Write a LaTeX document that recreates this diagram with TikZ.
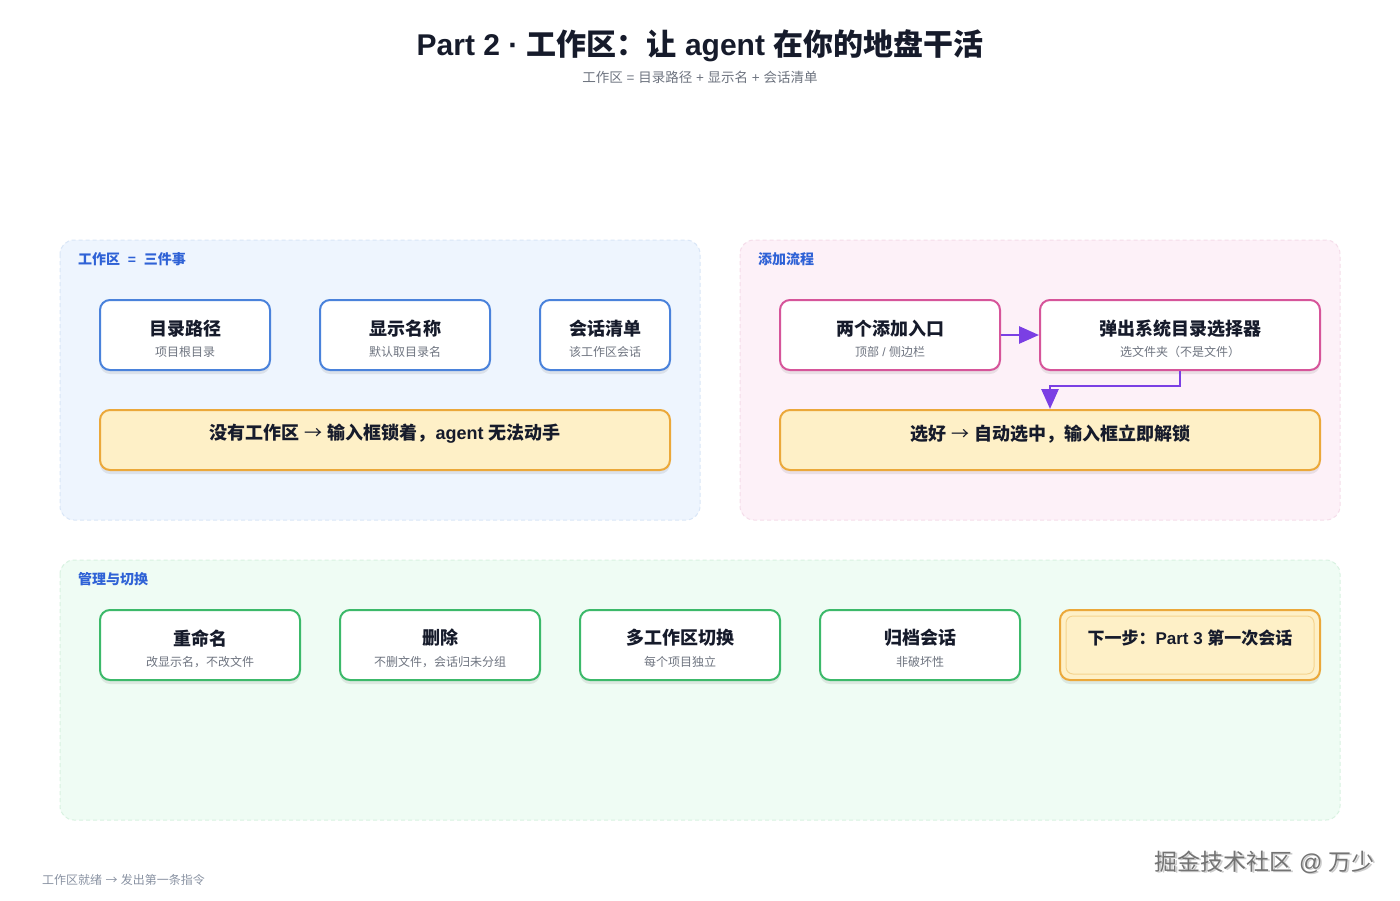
\documentclass[tikz,border=0pt]{standalone}
\usepackage{fontspec}
\setmainfont{Noto Sans CJK SC}
\newfontfamily\lat{Liberation Sans}
\newcommand{\thinarrow}{{\mdseries →}}
\usetikzlibrary{arrows.meta,shadows}
\definecolor{ink}{HTML}{161B2B}
\definecolor{subgray}{HTML}{6E7480}
\definecolor{lblblue}{HTML}{2F62D6}
\definecolor{bluepanel}{HTML}{EEF5FE}
\definecolor{bluepanelb}{HTML}{D9E6F7}
\definecolor{pinkpanel}{HTML}{FDF1F8}
\definecolor{pinkpanelb}{HTML}{F5DDEA}
\definecolor{greenpanel}{HTML}{EFFCF4}
\definecolor{greenpanelb}{HTML}{D8F2E1}
\definecolor{blueb}{HTML}{4A82DB}
\definecolor{pinkb}{HTML}{D6559A}
\definecolor{greenb}{HTML}{3CB96A}
\definecolor{amberb}{HTML}{EBA83A}
\definecolor{amberin}{HTML}{F5D48E}
\definecolor{amberf}{HTML}{FEF0C7}
\definecolor{flowc}{HTML}{7B3FE4}
\definecolor{foot}{HTML}{8A93A3}
\tikzset{
  panel/.style={draw=#1, line width=1pt, dash pattern=on 4pt off 3pt, rounded corners=14pt},
  card/.style={draw=#1, fill=white, line width=2pt, rounded corners=10pt,
    drop shadow={shadow xshift=0pt, shadow yshift=-4pt, opacity=0.08, fill=black}},
  notecard/.style={draw=amberb, fill=amberf, line width=2pt, rounded corners=10pt,
    drop shadow={shadow xshift=0pt, shadow yshift=-4pt, opacity=0.08, fill=black}},
  cardtitle/.style={font=\fontsize{18}{21}\selectfont\bfseries, text=ink, inner sep=0pt},
  cardsub/.style={font=\fontsize{12}{14}\selectfont, text=subgray, inner sep=0pt},
  paneltitle/.style={font=\fontsize{14}{16}\selectfont\bfseries, text=lblblue, anchor=west, inner sep=0pt},
  flow/.style={draw=flowc, line width=2.8pt, -{Triangle[length=20pt,width=17pt]}},
}
\begin{document}
\begin{tikzpicture}[x=1pt,y=-1pt]
\useasboundingbox (0,0) rectangle (1400,900);
\fill[white] (0,0) rectangle (1400,900);

% title
\node[font=\fontsize{30}{35}\selectfont\bfseries, text=ink] (title) at (700,46) {{\lat Part 2 · }工作区：让{\lat\ agent }在你的地盘干活};
\node[font=\fontsize{13.5}{16}\selectfont, text=subgray] (subtitle) at (700,77) {工作区{\lat\ = }目录路径{\lat\ + }显示名{\lat\ + }会话清单};

% panels
\path[panel=bluepanelb, fill=bluepanel] (60,240) rectangle (700,520);
\path[panel=pinkpanelb, fill=pinkpanel] (740,240) rectangle (1340,520);
\path[panel=greenpanelb, fill=greenpanel] (60,560) rectangle (1340,820);
\node[paneltitle] (lp) at (78,259) {工作区{\lat\ \ =\ \ }三件事};
\node[paneltitle] (rp) at (758,259) {添加流程};
\node[paneltitle] (bp) at (78,579) {管理与切换};

% left panel cards
\node[card=blueb, minimum width=170, minimum height=70] (a1) at (185,335) {};
\node[cardtitle] (a1t) at (185,329) {目录路径};
\node[cardsub] (a1s) at (185,352) {项目根目录};
\node[card=blueb, minimum width=170, minimum height=70] (a2) at (405,335) {};
\node[cardtitle] (a2t) at (405,329) {显示名称};
\node[cardsub] (a2s) at (405,352) {默认取目录名};
\node[card=blueb, minimum width=130, minimum height=70] (a3) at (605,335) {};
\node[cardtitle] (a3t) at (605,329) {会话清单};
\node[cardsub] (a3s) at (605,352) {该工作区会话};
\node[notecard, minimum width=570, minimum height=60] (y1) at (385,440) {};
\node[cardtitle] (y1t) at (385,434) {没有工作区{\lat\ }\thinarrow{\lat\ }输入框锁着，{\lat agent }无法动手};

% right panel cards
\node[card=pinkb, minimum width=220, minimum height=70] (b1) at (890,335) {};
\node[cardtitle] (b1t) at (890,329) {两个添加入口};
\node[cardsub] (b1s) at (890,352) {顶部{\lat\ / }侧边栏};
\node[card=pinkb, minimum width=280, minimum height=70] (b2) at (1180,335) {};
\node[cardtitle] (b2t) at (1180,329) {弹出系统目录选择器};
\node[cardsub] (b2s) at (1180,352) {选文件夹（不是文件）};
\node[notecard, minimum width=540, minimum height=60] (y2) at (1050,440) {};
\node[cardtitle] (y2t) at (1050,434) {选好{\lat\ }\thinarrow{\lat\ }自动选中，输入框立即解锁};

\draw[flow] (b1) -- (b2);
\draw[flow] (b2.south) -- ++(0,15) -| (y2.north);

% bottom cards
\node[card=greenb, minimum width=200, minimum height=70] (c1) at (200,645) {};
\node[cardtitle] (c1t) at (200,638) {重命名};
\node[cardsub] (c1s) at (200,662) {改显示名，不改文件};
\node[card=greenb, minimum width=200, minimum height=70] (c2) at (440,645) {};
\node[cardtitle] (c2t) at (440,638) {删除};
\node[cardsub] (c2s) at (440,662) {不删文件，会话归未分组};
\node[card=greenb, minimum width=200, minimum height=70] (c3) at (680,645) {};
\node[cardtitle] (c3t) at (680,638) {多工作区切换};
\node[cardsub] (c3s) at (680,662) {每个项目独立};
\node[card=greenb, minimum width=200, minimum height=70] (c4) at (920,645) {};
\node[cardtitle] (c4t) at (920,638) {归档会话};
\node[cardsub] (c4s) at (920,662) {非破坏性};
\node[notecard, minimum width=260, minimum height=70] (c5) at (1190,645) {};
\node[draw=amberin, line width=1pt, rounded corners=7pt, minimum width=248, minimum height=58] (c5i) at (1190,645) {};
\node[cardtitle, font=\fontsize{17}{20}\selectfont\bfseries] (c5t) at (1190,638) {下一步：{\lat Part 3 }第一次会话};

% footer
\node[font=\fontsize{12}{14}\selectfont, text=foot, anchor=west, inner sep=0pt] (footer) at (42,880) {工作区就绪{\lat\ }\thinarrow{\lat\ }发出第一条指令};
\node[font=\fontsize{23}{26}\selectfont, text=white!80!black, anchor=east, inner sep=0pt] (wm2) at (1376.5,863.5) {掘金技术社区{\lat\ @ }万少};
\node[font=\fontsize{23}{26}\selectfont, text=black!55, anchor=east, inner sep=0pt] (wm) at (1375,862) {掘金技术社区{\lat\ @ }万少};
\end{tikzpicture}
\end{document}
